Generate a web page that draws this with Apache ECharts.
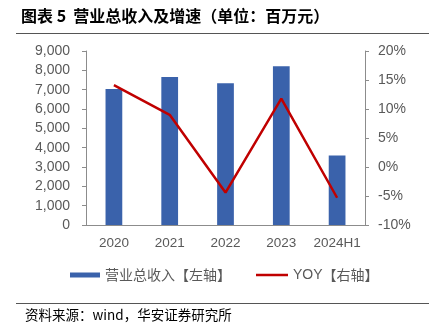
<!DOCTYPE html>
<html><head><meta charset="utf-8">
<script src="https://cdn.jsdelivr.net/npm/echarts@6/dist/echarts.min.js"></script>
<style>html,body{margin:0;padding:0;background:#fff}#c{width:429px;height:326px}</style>
</head><body><div id="c"></div>
<script>
const categories = ['2020','2021','2022','2023','2024H1'];
const revenue = [7040, 7660, 7330, 8210, 3590];
const yoy = [14.1, 9.0, -4.4, 11.8, -5.3];
const leftTicks = [0, 9000, 1000];
const rightTicks = [-10, 20, 5];

const lat = '"Liberation Sans", "Noto Sans CJK SC", sans-serif';
const cjk = '"Noto Sans CJK SC", "Liberation Sans", sans-serif';
const gray = '#595959';
const axisGray = '#8c8c8c';
const chart = echarts.init(document.getElementById('c'));
const lp = {fontFamily: cjk, fontSize: 14, color: gray};
chart.setOption({
  animation: false,
  grid: {left: 86, right: 64, top: 51, bottom: 101},
  title: {text: '图表 5  营业总收入及增速（单位：百万元）', left: 16, top: 3,
    textStyle: {fontFamily: cjk, fontSize: 16, fontWeight: 'bold', color: '#000'}},
  graphic: [
    {type: 'line', shape: {x1: 16, y1: 33.5, x2: 429, y2: 33.5}, style: {stroke: '#555', lineWidth: 1}},
    {type: 'line', shape: {x1: 16, y1: 303.5, x2: 429, y2: 303.5}, style: {stroke: '#555', lineWidth: 1}},
    {type: 'text', left: 25, top: 308, style: {text: '资料来源：wind，华安证券研究所', font: '13.5px ' + cjk, fill: '#000'}}
  ],
  legend: [
    {data: [{name: '营业总收入【左轴】', icon: 'rect'}], left: 70, top: 268, padding: 0, itemWidth: 30, itemHeight: 5, itemGap: 4,
      textStyle: lp},
    {data: [{name: 'YOY【右轴】', icon: 'rect'}], left: 256, top: 268, padding: 0, itemWidth: 32, itemHeight: 2.5, itemGap: 3,
      formatter: () => '{y|YOY}【右轴】',
      textStyle: Object.assign({}, lp, {rich: {
        y: Object.assign({}, lp, {fontFamily: lat, fontSize: 14})}})}
  ],
  xAxis: {type: 'category', data: categories,
    axisLine: {lineStyle: {color: axisGray}}, axisTick: {show: false},
    axisLabel: {color: gray, fontFamily: lat, fontSize: 13.5, margin: 12, interval: 0}},
  yAxis: [
    {type: 'value', min: leftTicks[0], max: leftTicks[1], interval: leftTicks[2],
      axisLine: {show: true, lineStyle: {color: axisGray}}, axisTick: {show: true, length: 4, lineStyle: {color: axisGray}},
      splitLine: {show: false},
      axisLabel: {color: gray, fontFamily: lat, fontSize: 14, margin: 16,
        formatter: v => v.toLocaleString('en-US')}},
    {type: 'value', min: rightTicks[0], max: rightTicks[1], interval: rightTicks[2],
      axisLine: {show: true, lineStyle: {color: axisGray}}, axisTick: {show: true, length: 4, lineStyle: {color: axisGray}},
      splitLine: {show: false},
      axisLabel: {color: gray, fontFamily: lat, fontSize: 14, margin: 13, formatter: v => v + '%'}}
  ],
  series: [
    {name: '营业总收入【左轴】', type: 'bar', data: revenue, barWidth: '30%',
      itemStyle: {color: '#3A62AB'}},
    {name: 'YOY【右轴】', type: 'line', yAxisIndex: 1, data: yoy, symbol: 'none',
      lineStyle: {color: '#C00000', width: 2.5}, itemStyle: {color: '#C00000'}}
  ]
});
</script></body></html>
